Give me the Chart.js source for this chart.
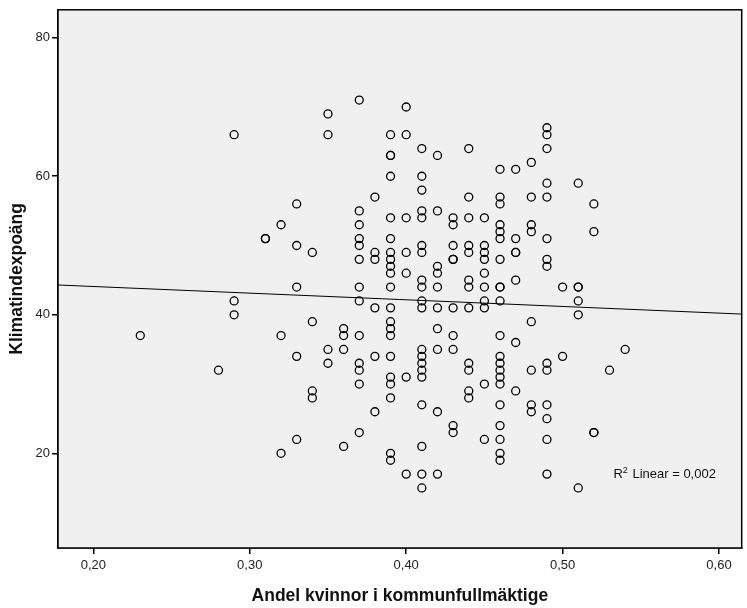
<!DOCTYPE html>
<html>
<head>
<meta charset="utf-8">
<script src="https://cdn.jsdelivr.net/npm/chart.js@4"></script>
<style>
  html, body { margin: 0; padding: 0; background: #fff; }
  canvas { display: block; }
</style>
</head>
<body>
<canvas id="chart" width="747" height="608"></canvas>
<script>
// Andel kvinnor (x) per column, and the Klimatindexpoäng values seen in each column
const andelKolumner = [0.23, 0.28, 0.29, 0.31, 0.32, 0.33, 0.34, 0.35, 0.36, 0.37, 0.38, 0.39, 0.40,
                       0.41, 0.42, 0.43, 0.44, 0.45, 0.46, 0.47, 0.48, 0.49, 0.50, 0.51, 0.52, 0.53, 0.54];
const poangPerKolumn = [
    [37],
    [32],
    [66, 42, 40],
    [51, 51],
    [53, 37, 20],
    [56, 50, 44, 34, 22],
    [49, 39, 29, 28],
    [69, 66, 35, 33],
    [38, 37, 35, 21],
    [71, 55, 53, 51, 50, 48, 44, 42, 37, 33, 32, 30, 23],
    [57, 49, 48, 41, 34, 26],
    [66, 63, 63, 60, 54, 51, 49, 48, 47, 46, 44, 41, 39, 38, 37, 34, 31, 30, 28, 20, 19],
    [70, 66, 54, 49, 46, 31, 17],
    [64, 60, 58, 55, 54, 50, 49, 45, 44, 42, 41, 35, 34, 33, 32, 31, 27, 21, 17, 15],
    [63, 55, 47, 46, 44, 41, 38, 35, 26, 17],
    [54, 53, 50, 48, 48, 41, 37, 35, 24, 23],
    [64, 57, 54, 50, 49, 45, 44, 41, 33, 32, 29, 28],
    [54, 50, 49, 48, 46, 44, 42, 41, 30, 22],
    [61, 57, 56, 53, 52, 51, 48, 44, 44, 42, 37, 34, 33, 32, 31, 30, 27, 24, 22, 20, 19],
    [61, 51, 49, 49, 45, 36, 29],
    [62, 57, 53, 52, 39, 32, 27, 26],
    [67, 66, 64, 59, 57, 51, 48, 47, 33, 32, 27, 25, 22, 17],
    [44, 34],
    [59, 44, 44, 42, 40, 15],
    [56, 52, 23, 23],
    [32],
    [35]
];

// Fit line end points
const linjeX = [0.1774, 0.6145];
const linjeY = [44.3, 40.1];

const xTicks = [0.2, 0.3, 0.4, 0.5, 0.6];
const yTicks = [20, 40, 60, 80];
const r2Text = 'R² Linear = 0,002';

// Build scatter points from the columns
const points = [];
andelKolumner.forEach((x, i) => {
    poangPerKolumn[i].forEach(y => points.push({ x: x, y: y }));
});
const linePoints = linjeX.map((x, i) => ({ x: x, y: linjeY[i] }));

const fontFam = '"Liberation Sans", Arial, sans-serif';

// Grey plot background, frame and R² label
const plotArea = {
    id: 'plotArea',
    beforeDatasetsDraw(chart) {
        const a = chart.chartArea;
        const ctx = chart.ctx;
        ctx.save();
        ctx.fillStyle = '#f0f0f0';
        ctx.fillRect(a.left, a.top, a.right - a.left, a.bottom - a.top);
        ctx.restore();
    },
    afterDraw(chart) {
        const a = chart.chartArea;
        const ctx = chart.ctx;
        ctx.save();
        ctx.strokeStyle = '#000';
        ctx.lineWidth = 1.5;
        ctx.strokeRect(a.left, a.top, a.right - a.left, a.bottom - a.top);
        // R² label
        const xs = chart.scales.x, ys = chart.scales.y;
        const px = xs.getPixelForValue(0.5325);
        const py = ys.getPixelForValue(17);
        ctx.fillStyle = '#111';
        ctx.textBaseline = 'middle';
        ctx.font = '13px ' + fontFam;
        ctx.fillText('R', px, py);
        const w = ctx.measureText('R').width;
        ctx.font = '9px ' + fontFam;
        ctx.fillText('2', px + w, py - 4);
        ctx.font = '13px ' + fontFam;
        ctx.fillText(r2Text.slice(2), px + w + 6, py);
        ctx.restore();
    }
};

const fmt = v => v.toFixed(2).replace('.', ',');

new Chart(document.getElementById('chart').getContext('2d'), {
    type: 'scatter',
    data: {
        datasets: [{
            data: points,
            pointStyle: 'circle',
            pointRadius: 4,
            pointBorderWidth: 1.3,
            pointBorderColor: '#000',
            pointBackgroundColor: 'rgba(0,0,0,0)',
            order: 2
        }, {
            type: 'line',
            data: linePoints,
            borderColor: '#000',
            borderWidth: 1,
            pointRadius: 0,
            fill: false,
            order: 1
        }]
    },
    options: {
        responsive: false,
        animation: false,
        layout: { padding: { top: 8, right: 1, left: 0, bottom: 0 } },
        plugins: {
            legend: { display: false },
            tooltip: { enabled: false }
        },
        scales: {
            x: {
                type: 'linear',
                min: 0.1774,
                max: 0.6145,
                afterFit(scale) { scale.height = 60; },
                afterBuildTicks(scale) { scale.ticks = xTicks.map(v => ({ value: v })); },
                ticks: {
                    callback: v => fmt(v),
                    color: '#222',
                    font: { family: fontFam, size: 13 },
                    padding: 4,
                    maxRotation: 0
                },
                grid: { drawOnChartArea: false, drawTicks: true, tickLength: 6, color: '#000', lineWidth: 1.5 },
                border: { display: true, color: '#000', width: 1.5 },
                title: {
                    display: true,
                    text: 'Andel kvinnor i kommunfullmäktige',
                    color: '#111',
                    font: { family: fontFam, size: 17.5, weight: 'bold' },
                    padding: { top: 4, bottom: 1 }
                }
            },
            y: {
                type: 'linear',
                min: 6.33,
                max: 84.03,
                afterFit(scale) { scale.width = 58; },
                afterBuildTicks(scale) { scale.ticks = yTicks.map(v => ({ value: v })); },
                ticks: {
                    color: '#222',
                    font: { family: fontFam, size: 13 },
                    padding: 2
                },
                grid: { drawOnChartArea: false, drawTicks: true, tickLength: 6, color: '#000', lineWidth: 1.5 },
                border: { display: true, color: '#000', width: 1.5 },
                title: {
                    display: true,
                    text: 'Klimatindexpoäng',
                    color: '#111',
                    font: { family: fontFam, size: 17.5, weight: 'bold' },
                    padding: { top: 7, bottom: 0 }
                }
            }
        }
    },
    plugins: [plotArea]
});
</script>
</body>
</html>
